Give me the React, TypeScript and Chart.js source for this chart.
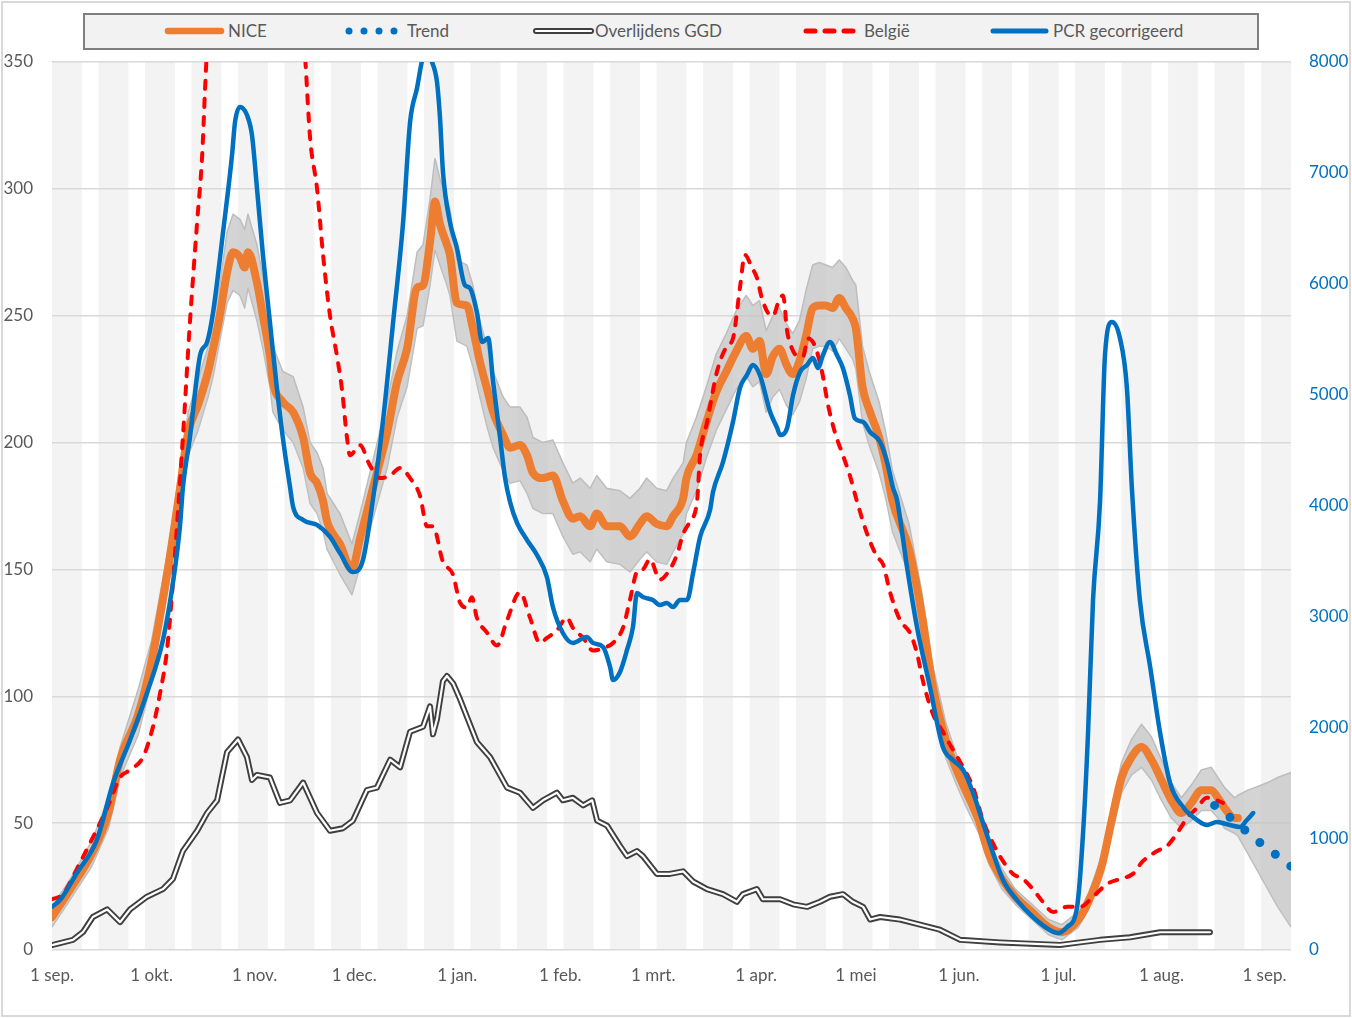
import React, { useEffect, useRef } from "react";
import { Chart, registerables } from "chart.js";

Chart.register(...registerables);

// ---- axes ----
const xMaxDay = 373; // days after 1 sep 2020
const monthTickDays = [0, 30, 61, 91, 122, 153, 181, 212, 242, 273, 303, 334, 365];
const monthTickLabels = ["1 sep.", "1 okt.", "1 nov.", "1 dec.", "1 jan.", "1 feb.", "1 mrt.", "1 apr.", "1 mei", "1 jun.", "1 jul.", "1 aug.", "1 sep."];
const leftMax = 350;
const leftStep = 50;
const rightMax = 8000;
const rightStep = 1000;

// alternating background stripes (start day of each shaded block)
const stripeStartDays = [0, 14, 28, 42, 56, 70, 84, 98, 112, 126, 140, 154, 168, 182, 196, 210, 224, 238, 252, 266, 280, 294, 308, 322, 336, 350, 364];
const stripeLengthDays = 9;

// ---- NICE (orange) + band ----
const niceDays = [0, 6, 12, 17, 20.5, 26, 30, 35, 38, 41, 44, 47, 48.5, 50.5, 52.7, 54.5, 56.6, 58, 59, 61.7, 63.5, 65.6, 66.5, 69.5, 72.6, 75.6, 77.7, 79.8, 81.6, 82.8, 86.7, 90.3, 92.7, 96.6, 100.9, 103.9, 106.9, 109.9, 111.7, 113.8, 115.3, 116.8, 118.9, 119.8, 121.9, 124.9, 126.7, 128.8, 131, 132.8, 135.8, 137.9, 140.9, 143, 144.8, 147.8, 150.8, 153.8, 156.8, 159, 162, 164, 167, 171, 174, 177, 179, 182, 185, 187, 190, 191, 194, 197, 200, 203, 206, 209, 211, 213, 215, 217, 219, 221, 223, 225, 227, 229, 231, 233, 235, 237, 239, 241, 242, 244, 246, 249, 251, 253, 258, 262, 265, 269, 272, 275, 279, 282, 286, 290, 295, 300, 304, 309, 312, 316, 319, 322, 325, 328, 331, 334, 337, 340, 343, 346, 349, 351, 353, 356, 357];
const niceValues = [13, 25, 38, 54, 75, 93, 114, 151, 177, 204, 215, 228, 237, 250, 267, 275, 273, 269, 275, 263, 250, 234, 224, 216, 212, 202, 188, 184, 177, 169, 160, 150, 162, 182, 204, 224, 237, 261, 262, 279, 295, 286, 278, 274, 255, 254, 245, 232, 221, 212, 203, 198, 199, 195, 188, 186, 187, 177, 170, 171, 167, 172, 167, 167, 163, 168, 171, 168, 167, 171, 178, 186, 195, 208, 220, 228, 236, 242, 237, 240, 227, 234, 237, 231, 227, 232, 242, 253, 254, 254, 253, 257, 253, 249, 245, 222, 213, 202, 191, 177, 158, 131, 105, 83, 72, 63, 51, 38, 28, 21, 15, 9, 7, 12, 19, 33, 51, 68, 76, 80, 75, 67, 59, 54, 58, 63, 63, 60, 56, 52, 52];
const niceUpper = [17, 29, 43, 60, 80, 103, 122, 158, 185, 212, 225, 238, 248, 262, 283, 290, 288, 284, 290, 278, 265, 248, 238, 228, 226, 214, 200, 196, 190, 180, 172, 160, 172, 193, 216, 236, 250, 275, 278, 296, 312, 304, 296, 292, 272, 270, 262, 248, 238, 228, 218, 214, 214, 210, 202, 200, 201, 192, 184, 186, 182, 187, 182, 181, 178, 182, 186, 182, 181, 186, 192, 200, 210, 222, 235, 243, 252, 258, 254, 256, 244, 250, 253, 247, 243, 248, 260, 270, 271, 270, 269, 272, 269, 264, 262, 238, 228, 216, 204, 189, 168, 140, 113, 90, 78, 68, 56, 43, 32, 24, 18, 12, 10, 15, 22, 37, 56, 74, 83, 89, 84, 75, 66, 60, 65, 71, 72, 68, 64, 60, 61];
const niceLower = [9, 21, 33, 48, 68, 85, 106, 143, 168, 195, 205, 218, 226, 240, 255, 260, 258, 253, 261, 248, 237, 222, 212, 205, 200, 190, 176, 172, 165, 158, 148, 140, 151, 170, 190, 210, 222, 245, 246, 262, 276, 270, 262, 258, 240, 238, 230, 218, 206, 198, 189, 184, 185, 180, 174, 172, 172, 163, 156, 157, 153, 158, 153, 152, 149, 154, 157, 153, 152, 157, 164, 172, 181, 194, 205, 213, 221, 226, 222, 224, 212, 218, 221, 215, 211, 216, 225, 237, 238, 238, 236, 241, 237, 233, 229, 208, 199, 188, 178, 165, 148, 122, 97, 76, 66, 57, 46, 34, 24, 18, 12, 6, 4, 9, 16, 29, 46, 62, 69, 72, 67, 59, 52, 48, 51, 55, 55, 52, 48, 46, 45];
const forecastDays = [360, 363, 366, 369, 373];
const forecastUpper = [63, 64.5, 66, 68, 70];
const forecastLower = [38, 31, 24, 17, 9];

// ---- Trend (blue dots) ----
const trendDays = [350, 354, 358, 363, 368, 373];
const trendValues = [57, 53, 48.5, 43, 38, 33];

// ---- Overlijdens GGD ----
const deathDays = [0.3, 6.3, 9.3, 12.3, 16.6, 20.5, 23.5, 28.6, 33.4, 36.4, 39.4, 43.7, 46.7, 49.7, 52.7, 56, 58.7, 60.2, 61.7, 65.6, 68.6, 71.7, 75.6, 79.8, 83.7, 87.6, 90.6, 94.8, 97.8, 101.8, 104.8, 107.8, 111.7, 113.8, 114.7, 115.9, 117.7, 118.9, 120.8, 122.8, 124.9, 127.9, 131.9, 137, 140.9, 144.8, 147.8, 152, 153.8, 156.8, 159.9, 162.6, 164.1, 167.1, 171, 173.1, 176.1, 177.9, 182.1, 186, 190, 193, 197.2, 202, 206.2, 208, 212.2, 214, 219.2, 223.1, 227.3, 231.2, 234.2, 238.1, 241.1, 244.2, 246.3, 249.3, 255.3, 261.3, 267.3, 273.4, 285.4, 303.5, 309.5, 315.5, 324.5, 333.6, 342.6, 348.6];
const deathValues = [2, 4, 7, 13, 16, 11, 16, 21, 24, 28, 39, 47, 54, 59, 78, 83, 76, 67, 69, 68, 58, 59, 66, 54, 47, 48, 51, 63, 64, 75, 72, 86, 88, 96, 85, 91, 106, 108, 105, 99, 92, 82, 76, 64, 62, 56, 59, 62, 59, 60, 57, 59, 51, 49, 41, 37, 39, 37, 30, 30, 31, 27, 24, 22, 19, 22, 24, 20, 20, 18, 17, 19, 21, 22, 19, 17, 12, 13, 12, 10, 8, 4, 3, 2, 3, 4, 5, 7, 7, 7];

// ---- België ----
const belDays = [0, 3.3, 7.5, 11.4, 16.6, 20.5, 23.5, 27.4, 30.4, 32.5, 34.6, 36.4, 39.4, 41.5, 43.7, 45.2, 46.1, 47.6, 51, 55, 59, 63, 67, 71, 74, 76.2, 77.7, 79.8, 81.6, 83.7, 85.8, 87.3, 88.8, 89.7, 92.7, 95.7, 98.7, 101.8, 104.8, 107.8, 110.8, 112.9, 114.7, 117.7, 120.7, 122.8, 124.9, 126.4, 127.9, 131, 134, 137, 140.9, 143.9, 146.9, 149, 152, 155, 156.8, 159.9, 162.9, 165.9, 168.9, 171.9, 174, 176.1, 177.9, 180, 183, 186, 188.2, 190, 192.1, 194.2, 195.1, 197.2, 200.2, 203.2, 205, 207.1, 208.6, 210.7, 212.2, 213.7, 215.6, 217.1, 218.6, 220.1, 221.3, 222.8, 224.6, 226.1, 227.6, 229.7, 231.8, 233.6, 235.7, 238.1, 240.2, 242.3, 245.4, 248.4, 250.2, 252.3, 255.3, 258.3, 260.4, 262.2, 265.2, 268.2, 271.2, 274.3, 277.3, 280.3, 283.3, 286.3, 289.3, 292.3, 295.3, 298.3, 301.4, 305.6, 309.5, 313.4, 317.6, 321.5, 325.4, 328.4, 332.7, 335.7, 338.7, 341.7, 344.7, 347.7, 350.7, 352.5];
const belValues = [20, 22, 32, 42, 56, 68, 71, 76, 88, 101, 118, 145, 202, 247, 287, 313, 340, 380, 470, 560, 610, 590, 520, 450, 390, 352, 320, 300, 274, 250, 234, 221, 202, 195, 199, 191, 186, 187, 190, 186, 179, 167, 167, 153, 148, 137, 135, 139, 131, 125, 120, 130, 141, 131, 121, 123, 126, 131, 127, 123, 118, 119, 121, 127, 138, 149, 150, 154, 146, 150, 156, 164, 169, 177, 195, 208, 228, 238, 241, 261, 274, 269, 265, 257, 251, 250, 255, 258, 244, 237, 234, 234, 241, 238, 228, 215, 204, 195, 187, 177, 164, 155, 152, 141, 130, 125, 117, 106, 93, 86, 79, 72, 64, 51, 42, 35, 30, 28, 24, 19, 15, 17, 17, 21, 26, 28, 30, 35, 39, 41, 46, 52, 56, 60, 59, 58];

// ---- PCR gecorrigeerd (right axis) ----
const pcrDays = [0, 2.4, 7.5, 13.5, 18.4, 23.5, 28.6, 33.4, 36.4, 38.5, 39.4, 41.5, 44.6, 46.7, 48.5, 51.5, 54.2, 55.1, 56.6, 58.7, 60.2, 61.7, 63.5, 65.6, 67.7, 69.5, 71.7, 72.6, 75.6, 79.8, 83.7, 86.7, 90.6, 93.6, 96.6, 99.6, 102.7, 105.7, 107.8, 109.9, 111.7, 112.9, 114.4, 115.9, 116.8, 117.7, 119.8, 121.9, 124.3, 125.8, 127.9, 129.5, 131.3, 132.8, 134.9, 136.4, 137.9, 140, 143, 146, 149, 150.8, 153.8, 156.8, 161, 162.9, 165.9, 168, 168.9, 171, 173.1, 174.9, 176.1, 177.9, 180.9, 183, 185.1, 187, 189, 191.2, 193, 195.1, 198.1, 199, 202, 205, 207.1, 209.2, 211, 213.1, 216.2, 218.3, 219.2, 221.3, 223.1, 225.2, 227.3, 229.1, 230.6, 232.1, 234.2, 236.3, 238.1, 240.2, 241.7, 244.2, 246.3, 249.3, 251.4, 253.2, 254.4, 257.4, 260.4, 264.3, 268.2, 271.2, 274.3, 277.3, 280.3, 283.3, 286.3, 290.5, 295.3, 300.4, 302.9, 305.6, 308.6, 310.4, 311.9, 313.4, 315.5, 317, 319.1, 321.5, 323.6, 325.1, 327.5, 330.6, 333.6, 336.6, 340.5, 344.7, 347.7, 350.7, 354.6, 357.6, 359.7, 361.6];
const pcrValues = [390, 450, 694, 991, 1504, 1892, 2315, 2793, 3306, 3811, 4162, 4613, 5360, 5477, 5748, 6468, 7162, 7459, 7595, 7522, 7342, 6865, 6261, 5658, 5063, 4613, 4162, 3991, 3874, 3829, 3721, 3576, 3405, 3513, 4054, 4757, 5658, 6558, 7459, 7766, 8050, 8100, 8000, 7820, 7500, 7009, 6558, 6324, 5990, 5964, 5748, 5477, 5513, 5117, 4613, 4252, 4036, 3847, 3694, 3559, 3360, 3090, 2856, 2766, 2820, 2766, 2730, 2550, 2432, 2505, 2703, 2910, 3216, 3180, 3153, 3108, 3126, 3090, 3153, 3153, 3396, 3721, 3964, 4126, 4396, 4757, 5063, 5180, 5270, 5180, 4847, 4703, 4640, 4703, 5000, 5207, 5270, 5333, 5243, 5360, 5477, 5360, 5243, 5000, 4790, 4757, 4667, 4577, 4396, 4162, 4054, 3450, 2910, 2369, 1829, 1712, 1622, 1414, 1144, 874, 631, 450, 297, 180, 153, 207, 387, 1054, 1955, 3153, 4036, 5360, 5658, 5513, 5063, 4162, 3153, 2550, 1955, 1504, 1288, 1171, 1126, 1153, 1126, 1108, 1171, 1234];

// ---- styling ----
const FONT = "Lato, 'Open Sans', sans-serif";
const TEXT_GREY = "#595959";
const ORANGE = "#ed7d31";
const BLUE = "#0070c0";
const RED = "#ff0000";
const DARK = "#3f3f3f";

const pts = (xs: number[], ys: number[]) => xs.map((x, i) => ({ x, y: ys[i] }));

const stripesPlugin = {
  id: "stripes",
  beforeDraw(chart: any) {
    const { ctx, scales } = chart;
    const xs = scales.x;
    const ys = scales.y;
    const top = ys.getPixelForValue(leftMax);
    const bottom = ys.getPixelForValue(0);
    ctx.save();
    ctx.fillStyle = "#f3f3f3";
    for (const s of stripeStartDays) {
      const x0 = xs.getPixelForValue(s);
      const x1 = xs.getPixelForValue(Math.min(s + stripeLengthDays, xMaxDay));
      ctx.fillRect(x0, top, x1 - x0, bottom - top);
    }
    ctx.restore();
  },
};

export default function App() {
  const ref = useRef<HTMLCanvasElement>(null);

  useEffect(() => {
    if (!ref.current) return;
    const bandDays = niceDays.concat(forecastDays);
    const bandUp = niceUpper.concat(forecastUpper);
    const bandLo = niceLower.concat(forecastLower);
    const common = { pointRadius: 0, pointHoverRadius: 0, borderJoinStyle: "round" as const };
    const chart = new Chart(ref.current, {
      type: "line",
      data: {
        datasets: [
          {
            label: "bandUpper",
            data: pts(bandDays, bandUp),
            yAxisID: "y",
            borderColor: "#bdbdbd",
            borderWidth: 1.5,
            backgroundColor: "rgba(196,196,196,0.72)",
            fill: "+1",
            tension: 0,
            order: 7,
            ...common,
          },
          {
            label: "bandLower",
            data: pts(bandDays, bandLo),
            yAxisID: "y",
            borderColor: "#bdbdbd",
            borderWidth: 1.5,
            fill: false,
            tension: 0,
            order: 8,
            ...common,
          },
          {
            label: "NICE",
            data: pts(niceDays, niceValues),
            yAxisID: "y",
            borderColor: ORANGE,
            borderWidth: 8,
            borderCapStyle: "round",
            cubicInterpolationMode: "monotone",
            fill: false,
            order: 6,
            ...common,
          },
          {
            label: "Overlijdens GGD",
            data: pts(deathDays, deathValues),
            yAxisID: "y",
            borderColor: DARK,
            borderWidth: 6,
            borderCapStyle: "round",
            tension: 0,
            fill: false,
            order: 5,
            ...common,
          },
          {
            label: "Overlijdens GGD (binnen)",
            data: pts(deathDays, deathValues),
            yAxisID: "y",
            borderColor: "#ffffff",
            borderWidth: 2.2,
            borderCapStyle: "round",
            tension: 0,
            fill: false,
            order: 4,
            ...common,
          },
          {
            label: "België",
            data: pts(belDays, belValues),
            yAxisID: "y",
            borderColor: RED,
            borderWidth: 4,
            borderDash: [8, 10],
            borderCapStyle: "round",
            cubicInterpolationMode: "monotone",
            fill: false,
            order: 3,
            ...common,
          },
          {
            label: "PCR gecorrigeerd",
            data: pts(pcrDays, pcrValues),
            yAxisID: "y1",
            borderColor: BLUE,
            borderWidth: 4.5,
            borderCapStyle: "round",
            cubicInterpolationMode: "monotone",
            fill: false,
            order: 2,
            ...common,
          },
          {
            label: "Trend",
            data: pts(trendDays, trendValues),
            yAxisID: "y",
            borderColor: BLUE,
            borderWidth: 9,
            borderDash: [0, 19.5],
            borderCapStyle: "round",
            tension: 0,
            fill: false,
            order: 1,
            ...common,
          },
        ],
      },
      options: {
        responsive: false,
        maintainAspectRatio: false,
        devicePixelRatio: 1,
        animation: false,
        events: [],
        layout: { padding: { top: 62, left: 0, right: 0, bottom: 0 } },
        plugins: {
          legend: { display: false },
          tooltip: { enabled: false },
        },
        scales: {
          x: {
            type: "linear",
            min: 0,
            max: xMaxDay,
            afterBuildTicks: (scale: any) => {
              scale.ticks = monthTickDays.map((v) => ({ value: v }));
            },
            afterFit: (scale: any) => {
              scale.height = 68;
            },
            grid: { display: false, drawTicks: false },
            border: { display: false },
            ticks: {
              autoSkip: false,
              maxRotation: 0,
              padding: 15,
              color: TEXT_GREY,
              font: { family: FONT, size: 17 },
              callback: (v: any) => {
                const i = monthTickDays.indexOf(Number(v));
                return i >= 0 ? monthTickLabels[i] : "";
              },
            },
          },
          y: {
            type: "linear",
            position: "left",
            min: 0,
            max: leftMax,
            afterFit: (scale: any) => {
              scale.width = 52;
            },
            grid: { color: "#d9d9d9", lineWidth: 1.5, drawTicks: false },
            border: { display: false },
            ticks: {
              stepSize: leftStep,
              padding: 19,
              color: TEXT_GREY,
              font: { family: FONT, size: 17 },
              callback: (v: any) => String(v),
            },
          },
          y1: {
            type: "linear",
            position: "right",
            min: 0,
            max: rightMax,
            afterFit: (scale: any) => {
              scale.width = 61;
            },
            grid: { display: false, drawTicks: false },
            border: { display: false },
            ticks: {
              stepSize: rightStep,
              padding: 18,
              color: BLUE,
              font: { family: FONT, size: 17 },
              callback: (v: any) => String(v),
            },
          },
        },
      },
      plugins: [stripesPlugin],
    } as any);
    return () => chart.destroy();
  }, []);

  const textStyle = { fontFamily: FONT, fontSize: 17, fill: TEXT_GREY } as any;

  return (
    <div style={{ position: "absolute", left: 0, top: 0, width: 1352, height: 1018, background: "#ffffff", overflow: "hidden" }}>
      <canvas ref={ref} width={1352} height={1018} style={{ position: "absolute", left: 0, top: 0, width: 1352, height: 1018 }} />
      <svg width={1352} height={60} style={{ position: "absolute", left: 0, top: 0 }}>
        <rect x={84} y={14} width={1174} height={35} fill="#f2f2f2" stroke="#7f7f7f" strokeWidth={2} />
        <line x1={168} y1={31} x2={221} y2={31} stroke={ORANGE} strokeWidth={6.5} strokeLinecap="round" />
        <text x={228} y={37} style={textStyle}>NICE</text>
        <circle cx={349} cy={31} r={3.5} fill={BLUE} />
        <circle cx={364} cy={31} r={3.5} fill={BLUE} />
        <circle cx={379} cy={31} r={3.5} fill={BLUE} />
        <circle cx={394} cy={31} r={3.5} fill={BLUE} />
        <text x={407} y={37} style={textStyle}>Trend</text>
        <line x1={536} y1={31} x2={591} y2={31} stroke={DARK} strokeWidth={6} strokeLinecap="round" />
        <line x1={536} y1={31} x2={591} y2={31} stroke="#ffffff" strokeWidth={2.2} strokeLinecap="round" />
        <text x={595} y={37} style={textStyle}>Overlijdens GGD</text>
        <line x1={806} y1={31} x2={855} y2={31} stroke={RED} strokeWidth={5} strokeLinecap="round" strokeDasharray="9 10" />
        <text x={864} y={37} style={textStyle}>België</text>
        <line x1={993} y1={31} x2={1046} y2={31} stroke={BLUE} strokeWidth={5} strokeLinecap="round" />
        <text x={1053} y={37} style={textStyle}>PCR gecorrigeerd</text>
      </svg>
      <div style={{ position: "absolute", left: 1, top: 1, width: 1350, height: 1016, boxSizing: "border-box", border: "2px solid #d9d9d9", pointerEvents: "none" }} />
    </div>
  );
}
